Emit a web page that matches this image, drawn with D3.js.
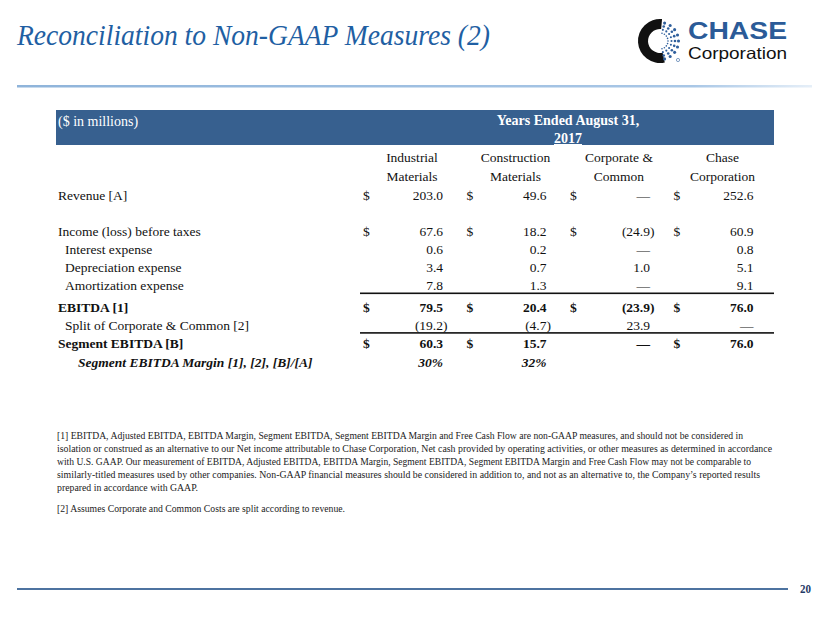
<!DOCTYPE html>
<html><head><meta charset="utf-8">
<script src="https://cdn.jsdelivr.net/npm/d3@7"></script>
<style>html,body{margin:0;padding:0;background:#fff;} svg{display:block;}</style>
</head><body><svg id="c" width="830" height="623"></svg>
<script>
// ---------------- DATA ----------------
const title = "Reconciliation to Non-GAAP Measures (2)";
const unitLabel = "($ in millions)";
const periodLabel = "Years Ended August 31,";
const periodYear = "2017";
const columnKeys = ["industrial", "construction", "corporate", "chase"];
const columnsLine1 = ["Industrial", "Construction", "Corporate &", "Chase"];
const columnsLine2 = ["Materials", "Materials", "Common", "Corporation"];
const rowLabels = [
  "Revenue [A]",
  "Income (loss) before taxes",
  "Interest expense",
  "Depreciation expense",
  "Amortization expense",
  "EBITDA [1]",
  "Split of Corporate & Common [2]",
  "Segment EBITDA [B]",
  "Segment EBITDA Margin [1], [2], [B]/[A]"
];
const industrial   = [203.0, 67.6, 0.6, 3.4, 7.8, 79.5, -19.2, 60.3, 0.30];
const construction = [49.6, 18.2, 0.2, 0.7, 1.3, 20.4, -4.7, 15.7, 0.32];
const corporate    = [0, -24.9, 0, 1.0, 0, -23.9, 23.9, 0, null];
const chase        = [252.6, 60.9, 0.8, 5.1, 9.1, 76.0, 0, 76.0, null];
const dollarIndustrial   = [true, true, false, false, false, true, false, true, false];
const dollarConstruction = [true, true, false, false, false, true, false, true, false];
const dollarCorporate    = [true, true, false, false, false, true, false, false, false];
const dollarChase        = [true, true, false, false, false, true, false, true, false];
const footnoteLines = [
  "[1] EBITDA, Adjusted EBITDA, EBITDA Margin, Segment EBITDA, Segment EBITDA Margin and Free Cash Flow are non-GAAP measures, and should not be considered in",
  "isolation or construed as an alternative to our Net income attributable to Chase Corporation, Net cash provided by operating activities, or other measures as determined in accordance",
  "with U.S. GAAP. Our measurement of EBITDA, Adjusted EBITDA, EBITDA Margin, Segment EBITDA, Segment EBITDA Margin and Free Cash Flow may not be comparable to",
  "similarly-titled measures used by other companies. Non-GAAP financial measures should be considered in addition to, and not as an alternative to, the Company\u2019s reported results",
  "prepared in accordance with GAAP."
];
const footnote2 = "[2] Assumes Corporate and Common Costs are split according to revenue.";
const pageNumber = "20";
const logoWord1 = "CHASE";
const logoWord2 = "Corporation";

// ---------------- FONT PICK ----------------
const cv = document.createElement("canvas").getContext("2d");
function has(fam) {
  const s = "Income (loss) before taxes WMmil";
  cv.font = "40px monospace"; const a = cv.measureText(s).width;
  cv.font = "40px '" + fam + "', monospace"; const b = cv.measureText(s).width;
  cv.font = "40px sans-serif"; const c = cv.measureText(s).width;
  cv.font = "40px '" + fam + "', sans-serif"; const d = cv.measureText(s).width;
  return a !== b || c !== d;
}
const serifFam = ["Liberation Serif", "Tinos", "Times New Roman", "Nimbus Roman", "Noto Serif", "DejaVu Serif"].find(has) || "serif";
const serif = "'" + serifFam + "', serif";
const sans = "'Liberation Sans', Arial, sans-serif";

// ---------------- LAYOUT ----------------
const svg = d3.select("#c");
const values = {industrial, construction, corporate, chase};
const dollars = {industrial: dollarIndustrial, construction: dollarConstruction, corporate: dollarCorporate, chase: dollarChase};

const defs = svg.append("defs");
const g1 = defs.append("linearGradient").attr("id", "topLine");
g1.append("stop").attr("offset", "0%").attr("stop-color", "#8fb4da");
g1.append("stop").attr("offset", "85%").attr("stop-color", "#a9c7e6");
g1.append("stop").attr("offset", "100%").attr("stop-color", "#e6eff8");

// title
svg.append("text").attr("x", 17).attr("y", 45)
  .attr("font-family", serif).attr("font-style", "italic").attr("font-size", 30)
  .attr("fill", "#1f5fa3").attr("textLength", 473).attr("lengthAdjust", "spacingAndGlyphs")
  .text(title);

// top rule
svg.append("rect").attr("x", 17).attr("y", 85).attr("width", 795).attr("height", 2.5).attr("fill", "url(#topLine)");

// logo
const logo = svg.append("g").attr("transform", "translate(660,41)");
logo.append("path").attr("d", d3.arc().innerRadius(12).outerRadius(22).startAngle(Math.PI * 0.93).endAngle(Math.PI * 2.03)())
  .attr("fill", "#111");
const rayAngles = d3.range(9).map(i => -0.42 * Math.PI + i * (0.84 * Math.PI / 8));
const rayRadii = [8, 11.5, 15, 18.5];
rayAngles.forEach(a => rayRadii.forEach((r, j) => {
  logo.append("circle").attr("cx", Math.cos(a) * r).attr("cy", Math.sin(a) * r)
    .attr("r", 0.8 + j * 0.25).attr("fill", "#2f5f9c");
}));
logo.append("circle").attr("cx", 18).attr("cy", 19).attr("r", 1.6).attr("fill", "none").attr("stroke", "#2f5f9c").attr("stroke-width", 0.6);
svg.append("text").attr("x", 688).attr("y", 39).attr("font-family", sans).attr("font-weight", "bold")
  .attr("font-size", 24).attr("fill", "#2b5b98").attr("textLength", 99).attr("lengthAdjust", "spacingAndGlyphs").text(logoWord1);
svg.append("text").attr("x", 688).attr("y", 59).attr("font-family", sans)
  .attr("font-size", 16.5).attr("fill", "#111").attr("textLength", 99).attr("lengthAdjust", "spacingAndGlyphs").text(logoWord2);

// header band
const fs = 13.5;
const tableTexts = [];
function tt(sel) { tableTexts.push(sel.node()); return sel; }
svg.append("rect").attr("x", 56).attr("y", 110).attr("width", 718).attr("height", 35).attr("fill", "#37608f");
tt(svg.append("text").attr("x", 58).attr("y", 126).attr("font-family", serif).attr("font-size", 14).attr("fill", "#fff").text(unitLabel));
tt(svg.append("text").attr("x", 568).attr("y", 125).attr("text-anchor", "middle").attr("font-family", serif)
  .attr("font-weight", "bold").attr("font-size", 14).attr("fill", "#fff").text(periodLabel));
tt(svg.append("text").attr("x", 568).attr("y", 143).attr("text-anchor", "middle").attr("font-family", serif)
  .attr("font-weight", "bold").attr("font-size", 14).attr("fill", "#fff").attr("text-decoration", "underline").text(periodYear));

// scales
const x = d3.scaleBand().domain(columnKeys).range([360, 774]);
const rowSlot = [0, 2, 3, 4, 5, 6.2, 7.2, 8.2, 9.3];
const y = d3.scaleLinear().domain([0, 1]).range([200, 218]);

// column headers
columnKeys.forEach((k, i) => {
  const cx = x(k) + 52;
  tt(svg.append("text").attr("x", cx).attr("y", 162).attr("text-anchor", "middle").attr("font-family", serif)
    .attr("font-size", fs).attr("fill", "#111").text(columnsLine1[i]));
  tt(svg.append("text").attr("x", cx).attr("y", 181).attr("text-anchor", "middle").attr("font-family", serif)
    .attr("font-size", fs).attr("fill", "#111").text(columnsLine2[i]));
});

const boldRows = new Set(["EBITDA [1]", "Segment EBITDA [B]"]);
const marginRow = rowLabels.length - 1;
const indentRows = new Set(["Interest expense", "Depreciation expense", "Amortization expense", "Split of Corporate & Common [2]"]);
const f1 = d3.format(".1f"), fp = d3.format(".0%");
function fmt(v, ri) {
  if (v === null) return "";
  if (ri === marginRow) return fp(v);
  if (v === 0) return "\u2014";
  if (v < 0) return "(" + f1(-v) + ")";
  return f1(v);
}

rowLabels.forEach((lab, ri) => {
  const yy = y(rowSlot[ri]);
  const bold = boldRows.has(lab) || ri === marginRow;
  const italic = ri === marginRow;
  const lx = ri === marginRow ? 78 : (indentRows.has(lab) ? 65 : 58);
  tt(svg.append("text").attr("x", lx).attr("y", yy).attr("font-family", serif).attr("font-size", fs)
    .attr("font-weight", bold ? "bold" : "normal").attr("font-style", italic ? "italic" : "normal")
    .attr("fill", "#111").text(lab));
  columnKeys.forEach(k => {
    const v = values[k][ri];
    if (dollars[k][ri]) {
      svg.append("text").attr("x", x(k) + 3).attr("y", yy).attr("font-family", serif).attr("font-size", fs)
        .attr("font-weight", bold ? "bold" : "normal").attr("fill", "#111").text("$");
    }
    const t = fmt(v, ri);
    if (t) {
      tt(svg.append("text").attr("x", x(k) + 83 + (v < 0 ? 4.5 : 0)).attr("y", yy).attr("text-anchor", "end")
        .attr("font-family", serif).attr("font-size", fs)
        .attr("font-weight", bold ? "bold" : "normal").attr("font-style", italic ? "italic" : "normal")
        .attr("fill", "#111").text(t));
    }
  });
});

// normalize widths to Times-like metrics if the available serif is wider
(function () {
  cv.font = fs + "px " + serif;
  const w = cv.measureText("Income (loss) before taxes").width;
  const r = Math.min(1, 146 / w);
  if (r < 0.97) {
    tableTexts.forEach(n => {
      const L = n.getComputedTextLength();
      n.setAttribute("textLength", (L * r).toFixed(2));
      n.setAttribute("lengthAdjust", "spacingAndGlyphs");
    });
  }
})();

// subtotal rules
[5, 7].forEach(ri => {
  const yy = y(rowSlot[ri - 1]) + 2.5;
  svg.append("rect").attr("x", 360).attr("y", yy).attr("width", 414).attr("height", 1.6).attr("fill", "#111");
});

// footnotes
const footW = [686, 715, 694, 703, 141];
footnoteLines.forEach((t, i) => {
  svg.append("text").attr("x", 57).attr("y", 439 + i * 13).attr("font-family", serif).attr("font-size", 10.5)
    .attr("fill", "#222").attr("textLength", footW[i]).attr("lengthAdjust", "spacingAndGlyphs").text(t);
});
svg.append("text").attr("x", 57).attr("y", 512).attr("font-family", serif).attr("font-size", 10.5)
  .attr("fill", "#222").attr("textLength", 288).attr("lengthAdjust", "spacingAndGlyphs").text(footnote2);

// bottom rule + page number
svg.append("rect").attr("x", 17).attr("y", 588).attr("width", 771).attr("height", 2).attr("fill", "#4d73a0");
svg.append("text").attr("x", 800).attr("y", 593).attr("font-family", serif).attr("font-weight", "bold")
  .attr("font-size", 12).attr("fill", "#1f3a66").attr("textLength", 11).attr("lengthAdjust", "spacingAndGlyphs").text(pageNumber);
</script></body></html>
